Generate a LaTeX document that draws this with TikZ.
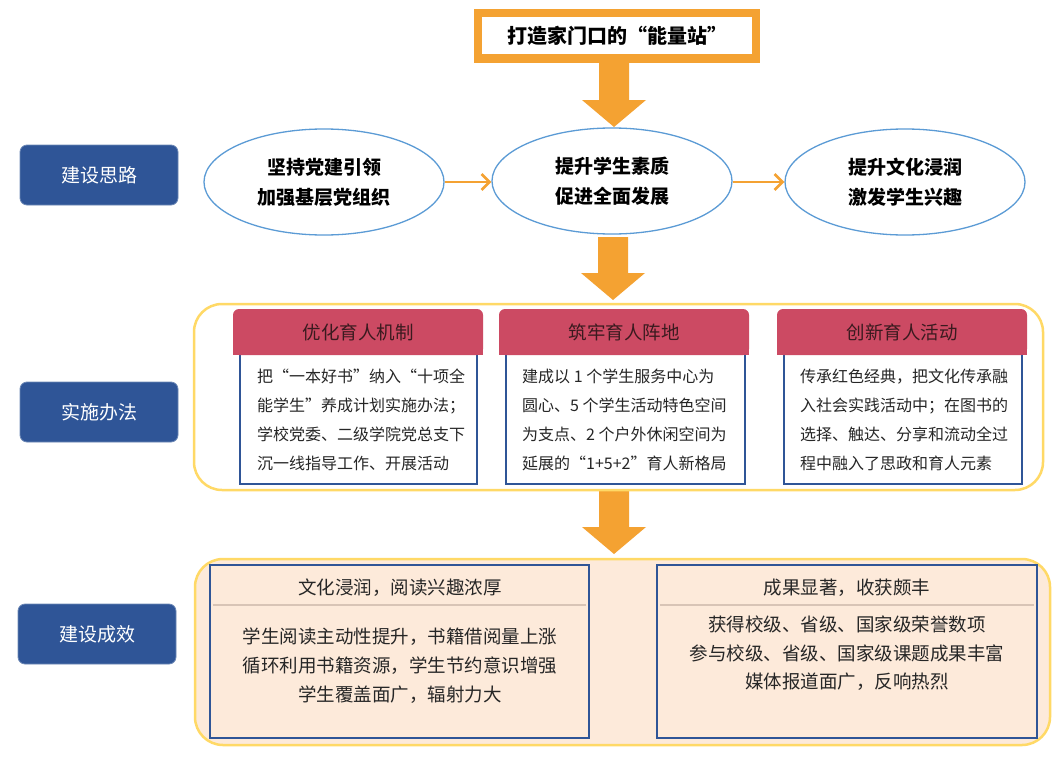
\documentclass[tikz,border=0pt]{standalone}
\usepackage{fontspec}
\setmainfont{Noto Sans CJK SC}
\usetikzlibrary{arrows.meta,shapes.geometric,calc}
\definecolor{org}{HTML}{F4A232}
\definecolor{ellb}{HTML}{5B9BD5}
\definecolor{lblue}{HTML}{2F5597}
\definecolor{hdr}{HTML}{CC4A63}
\definecolor{hdrtxt}{HTML}{3A1A1F}
\definecolor{ylw}{HTML}{FFD966}
\definecolor{peach}{HTML}{FDEADA}
\definecolor{sepc}{HTML}{D8C4B6}
\definecolor{bblue}{HTML}{2F5597}
\definecolor{txt}{HTML}{262626}
\newcommand\blockarrow[2]{\fill[org] let \p1=(#1), \p2=(#2) in
  (\x1-15pt,\y1) -- (\x1+15pt,\y1) -- (\x1+15pt,\y2+27pt) -- (\x1+32pt,\y2+27pt)
  -- (\x1,\y2) -- (\x1-32pt,\y2+27pt) -- (\x1-15pt,\y2+27pt) -- cycle;}
\tikzset{
  ell/.style={ellipse, draw=ellb, line width=1.3pt, fill=white, minimum width=240pt, minimum height=106pt,
    align=center, inner sep=0pt, font=\bfseries\fontsize{19}{30}\selectfont},
  conn/.style={org, line width=2.6pt, -{Straight Barb[length=8pt,width=16pt]}},
  lbl/.style={rounded corners=7pt, fill=lblue, draw=lblue!70!white, line width=0.8pt,
    minimum width=158pt, minimum height=60pt, text=white, font=\fontsize{19}{22}\selectfont},
  container/.style={draw=ylw, line width=2.5pt, rounded corners=28pt},
  bodybox/.style={draw=bblue, line width=2pt, fill=white},
  hdrtext/.style={text=hdrtxt, font=\fontsize{18.5}{22}\selectfont},
  bodytext/.style={text=txt, align=left, inner sep=0pt, anchor=west, font=\fontsize{16}{29}\selectfont},
  resbox/.style={draw=bblue, line width=2.5pt, minimum width=379pt, minimum height=173pt},
  restitle/.style={text=txt, font=\fontsize{18.5}{22}\selectfont},
  restext/.style={text=txt, align=center, inner sep=0pt, font=\fontsize{18.5}{29}\selectfont},
}
\begin{document}
\begin{tikzpicture}[x=1pt,y=-1pt]
\useasboundingbox (0,0) rectangle (1064,760);
\fill[white] (0,0) rectangle (1064,760);

% title
\node[draw=org, line width=8pt, fill=white, minimum width=278pt, minimum height=45pt,
  font=\bfseries\fontsize{20}{22}\selectfont] (title) at (617,36) {打造家门口的“能量站”};

% ellipses
\node[ell] (e1) at (324,182) {坚持党建引领\\加强基层党组织};
\node[ell] (e2) at (612,181) {提升学生素质\\促进全面发展};
\node[ell] (e3) at (905,182) {提升文化浸润\\激发学生兴趣};
\draw[conn] (e1.east) -- (e2.west |- e1.east);
\draw[conn] (e2.east |- e3.west) -- (e3.west);

% block arrows
\coordinate (a1s) at (614,62);  \coordinate (a1e) at (614,127);
\coordinate (a2s) at (613,237); \coordinate (a2e) at (613,300);
\coordinate (a3s) at (614,491); \coordinate (a3e) at (614,554);
\blockarrow{a1s}{a1e}
\blockarrow{a2s}{a2e}
\blockarrow{a3s}{a3e}

% left labels
\node[lbl] (l1) at (99,175) {建设思路};
\node[lbl] (l2) at (99,412) {实施办法};
\node[lbl] (l3) at (97,634) {建设成效};

% container 1
\node[container, minimum width=849pt, minimum height=186pt] (c1) at (618.5,397) {};

% column 1
\node[bodybox, minimum width=237pt, minimum height=130pt] (b1) at (358.5,419) {};
\fill[hdr, rounded corners=6pt] (233,309) rectangle (483,355);
\fill[hdr] (233,330) rectangle (483,355);
\node[hdrtext] (h1) at (358,332) {优化育人机制};
\node[bodytext] (t1) at (257,420) {把“一本好书”纳入“十项全\\能学生”养成计划实施办法；\\学校党委、二级学院党总支下\\沉一线指导工作、开展活动};

% column 2
\node[bodybox, minimum width=239pt, minimum height=130pt] (b2) at (625.5,419) {};
\fill[hdr, rounded corners=6pt] (499,309) rectangle (749,355);
\fill[hdr] (499,330) rectangle (749,355);
\node[hdrtext] (h2) at (624,332) {筑牢育人阵地};
\node[bodytext] (t2) at (522,420) {建成以 1 个学生服务中心为\\圆心、5 个学生活动特色空间\\为支点、2 个户外休闲空间为\\延展的“1+5+2”育人新格局};

% column 3
\node[bodybox, minimum width=238pt, minimum height=130pt] (b3) at (903,419) {};
\fill[hdr, rounded corners=6pt] (777,309) rectangle (1027,355);
\fill[hdr] (777,330) rectangle (1027,355);
\node[hdrtext] (h3) at (902,332) {创新育人活动};
\node[bodytext] (t3) at (800,420) {传承红色经典，把文化传承融\\入社会实践活动中；在图书的\\选择、触达、分享和流动全过\\程中融入了思政和育人元素};

% container 2
\node[container, fill=peach, minimum width=855pt, minimum height=186pt] (c2) at (622.5,652) {};

\node[resbox] (r1) at (399.5,651.5) {};
\draw[sepc, line width=2pt] ([xshift=4pt]r1.west |- 0,605) coordinate (s1a) -- ([xshift=-4pt]r1.east |- 0,605) coordinate (s1b);
\node[restitle] (rt1) at (400,588) {文化浸润，阅读兴趣浓厚};
\node[restext] (rb1) at (400,666) {学生阅读主动性提升，书籍借阅量上涨\\循环利用书籍资源，学生节约意识增强\\学生覆盖面广，辐射力大};

\node[resbox, minimum width=380pt] (r2) at (847,651.5) {};
\draw[sepc, line width=2pt] ([xshift=4pt]r2.west |- 0,605) coordinate (s2a) -- ([xshift=-4pt]r2.east |- 0,605) coordinate (s2b);
\node[restitle] (rt2) at (847,588) {成果显著，收获颇丰};
\node[restext, font=\fontsize{18.5}{28.5}\selectfont] (rb2) at (847,653.5) {获得校级、省级、国家级荣誉数项\\参与校级、省级、国家级课题成果丰富\\媒体报道面广，反响热烈};
\end{tikzpicture}
\end{document}
